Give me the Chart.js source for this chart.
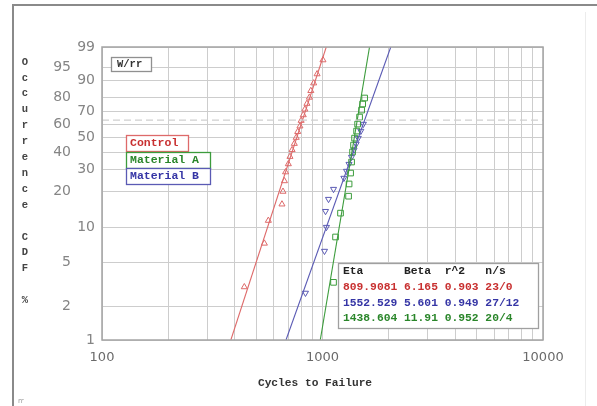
<!DOCTYPE html>
<html><head><meta charset="utf-8">
<script src="https://cdn.jsdelivr.net/npm/chart.js@4.4.1/dist/chart.umd.min.js"></script>
<style>html,body{margin:0;padding:0;background:#fff}#wrap{width:597px;height:406px;position:relative}</style>
</head><body><div id="wrap"><canvas id="c" width="597" height="406"></canvas></div>
<script>
// ---------- data ----------
const xGridTicks = [100,200,300,400,500,600,700,800,900,1000,2000,3000,4000,5000,6000,7000,8000,9000,10000];
const xTickLabels = [100,1000,10000];
const yGridTicks = [1,2,5,10,20,30,40,50,60,70,80,90,95,99];
const yInnerLabels = [1,10,30,50,70,90,99];
const yOuterLabels = [2,5,20,40,60,80,95];
const charLifePct = 63.2;

const controlCycles = [442,545,568,655,662,672,680,700,712,728,745,760,772,790,800,818,832,850,872,885,912,945,1005];
const controlCDF = [3.0,7.3,11.5,15.8,20.1,24.4,28.6,32.9,37.2,41.5,45.7,50.0,54.3,58.5,62.8,67.1,71.4,75.6,79.9,84.2,88.5,92.7,97.0];

const matACycles = [1122,1146,1207,1313,1320,1341,1355,1369,1383,1398,1428,1443,1473,1505,1521,1553];
const matACDF = [3.3,8.3,13.3,18.4,23.1,28.1,34.0,40.1,44.7,49.6,54.8,60.1,65.5,70.8,75.3,79.5];

const matBCycles = [837,1021,1042,1032,1065,1122,1250,1285,1319,1354,1390,1421,1453,1492,1532];
const matBCDF = [2.65,6.25,10.1,13.8,17.4,21.0,25.7,29.1,32.8,36.9,41.4,45.4,49.6,54.8,60.1];

// fitted lines (end points read at 1% and 99%)
const controlLineX = [384,1040];
const matALineX = [977,1634];
const matBLineX = [683,2040];
const lineCDF = [1,99];

const legendNames = ['Control','Material A','Material B'];
const statsHeader = 'Eta      Beta  r^2   n/s';
const statsRows = ['809.9081 6.165 0.903 23/0','1552.529 5.601 0.949 27/12','1438.604 11.91 0.952 20/4'];
const yTitleLetters = ['O','c','c','u','r','r','e','n','c','e','','C','D','F','','%'];
const xTitle = 'Cycles to Failure';
const fitLabel = 'W/rr';

// ---------- colours ----------
const RED='#de6a6a', RED_T='#c83030', BLUE='#5a5ab4', BLUE_T='#3535a5', GREEN='#3c9c3c', GREEN_T='#2a862a';

// ---------- Weibull probability scale ----------
const tf = p => Math.log(-Math.log(1 - p/100));
class WeibullScale extends Chart.LinearScale {
  determineDataLimits(){ this.min = this.options.min; this.max = this.options.max; }
  buildTicks(){ return yGridTicks.map(v => ({value:v})); }
  getPixelForValue(v){
    if (v === null || v === undefined) return NaN;
    const a = tf(this.min), b = tf(this.max);
    return this.getPixelForDecimal((tf(v)-a)/(b-a));
  }
  getValueForPixel(px){
    const a = tf(this.min), b = tf(this.max);
    const w = a + this.getDecimalForPixel(px)*(b-a);
    return 100*(1-Math.exp(-Math.exp(w)));
  }
}
WeibullScale.id = 'weibull';
WeibullScale.defaults = Chart.LinearScale.defaults;
Chart.register(WeibullScale);

const pts = (xs, ys) => xs.map((x,i) => ({x:x, y:ys[i]}));

const decor = {
  id:'decor',
  beforeDraw(chart){
    const c = chart.ctx; c.save(); c.fillStyle='#fff'; c.fillRect(0,0,chart.width,chart.height); c.restore();
  },
  afterDraw(chart){
    const c = chart.ctx, a = chart.chartArea;
    c.save();
    // plot frame
    c.strokeStyle='#a4a4a4'; c.lineWidth=1.5;
    c.strokeRect(a.left, a.top, a.right-a.left, a.bottom-a.top);
    // outer frame
    c.strokeStyle='#8a8a8a'; c.lineWidth=2;
    c.beginPath(); c.moveTo(13,406); c.lineTo(13,5); c.lineTo(597,5); c.stroke();
    c.strokeStyle='#ececec'; c.lineWidth=1;
    c.beginPath(); c.moveTo(585.5,12); c.lineTo(585.5,406); c.stroke();

    const mono = 'bold 11.5px "Liberation Mono", monospace';
    function box(x,y,w,h,stroke){ c.fillStyle='#fff'; c.fillRect(x,y,w,h); c.strokeStyle=stroke; c.lineWidth=1.3; c.strokeRect(x+0.5,y+0.5,w,h); }
    c.textBaseline='middle'; c.textAlign='left';
    // W/rr box
    box(111,57,40,14,'#909090');
    c.font='bold 10.5px "Liberation Mono", monospace'; c.fillStyle='#333';
    c.fillText(fitLabel,117,64.5);
    // legend boxes
    const lg = [[legendNames[0],RED,RED_T,135,62],[legendNames[1],GREEN,GREEN_T,152,84],[legendNames[2],BLUE,BLUE_T,168,84]];
    lg.forEach(([t,bc,tc,y,w]) => { box(126,y,w,16,bc); });
    c.font=mono;
    lg.forEach(([t,bc,tc,y,w]) => { c.fillStyle=tc; c.fillText(t,130,y+8.5); });
    // stats box
    box(338,263,200,65,'#a0a0a0');
    c.font='bold 11.3px "Liberation Mono", monospace';
    c.fillStyle='#222'; c.fillText(statsHeader,343,271.5);
    const sc=[RED_T,BLUE_T,GREEN_T];
    statsRows.forEach((r,i)=>{ c.fillStyle=sc[i]; c.fillText(r,343,287.5+i*15.5); });
    // axis titles
    c.font='bold 10.5px "Liberation Mono", monospace'; c.fillStyle='#444'; c.textAlign='center';
    yTitleLetters.forEach((ch,i)=>{ if(ch) c.fillText(ch,25,62+i*15.9); });
    c.font='bold 11.2px "Liberation Mono", monospace'; c.fillStyle='#333';
    c.fillText(xTitle,315,383);
    c.font='7px "DejaVu Sans"'; c.fillStyle='#999'; c.textAlign='left';
    c.fillText('rr',18,401);
    c.restore();
  }
};

new Chart(document.getElementById('c'), {
  type:'scatter',
  data:{ datasets:[
    {label:'63.2', type:'line', data:pts([100,10000],[charLifePct,charLifePct]), borderColor:'#d0d0d0', borderWidth:1.2, borderDash:[7,4], pointRadius:0},
    {label:'Control fit', type:'line', data:pts(controlLineX,lineCDF), borderColor:RED, borderWidth:1.1, pointRadius:0},
    {label:'Material A fit', type:'line', data:pts(matALineX,lineCDF), borderColor:GREEN, borderWidth:1.1, pointRadius:0},
    {label:'Material B fit', type:'line', data:pts(matBLineX,lineCDF), borderColor:BLUE, borderWidth:1.1, pointRadius:0},
    {label:'Control', data:pts(controlCycles,controlCDF), pointStyle:'triangle', pointRadius:3.5, borderColor:RED, backgroundColor:'rgba(0,0,0,0)', borderWidth:1},
    {label:'Material A', data:pts(matACycles,matACDF), pointStyle:'rect', pointRadius:4, borderColor:GREEN, backgroundColor:'rgba(0,0,0,0)', borderWidth:1},
    {label:'Material B', data:pts(matBCycles,matBCDF), pointStyle:'triangle', rotation:180, pointRadius:3.5, borderColor:BLUE, backgroundColor:'rgba(0,0,0,0)', borderWidth:1}
  ]},
  options:{
    responsive:false, animation:false, devicePixelRatio:1,
    layout:{padding:{left:32,right:54,top:47,bottom:0}},
    plugins:{legend:{display:false}, tooltip:{enabled:false}},
    scales:{
      x:{type:'logarithmic', min:100, max:10000,
        afterBuildTicks:s=>{ s.ticks = xGridTicks.map(v=>({value:v})); },
        afterFit:s=>{ s.height = 66; },
        grid:{color:'#cdcdcd', lineWidth:1, drawTicks:false},
        border:{display:false},
        ticks:{autoSkip:false, maxRotation:0, padding:10, color:'#6a6a6a', font:{family:'DejaVu Sans', size:13},
          callback:v => xTickLabels.includes(v) ? String(v) : ''}
      },
      y:{type:'weibull', position:'left', weight:0, min:1, max:99,
        afterFit:s=>{ s.width = 30; },
        grid:{color:'#cdcdcd', lineWidth:1, drawTicks:false},
        border:{display:false},
        ticks:{autoSkip:false, padding:7, color:'#858585', font:{family:'DejaVu Sans', size:14},
          callback:v => yInnerLabels.includes(v) ? String(v) : ''}
      },
      y2:{type:'weibull', position:'left', weight:1, min:1, max:99,
        afterFit:s=>{ s.width = 40; },
        grid:{display:false, drawTicks:false},
        border:{display:false},
        ticks:{autoSkip:false, padding:1, color:'#858585', font:{family:'DejaVu Sans', size:14},
          callback:v => yOuterLabels.includes(v) ? String(v) : ''}
      }
    }
  },
  plugins:[decor]
});
</script></body></html>
